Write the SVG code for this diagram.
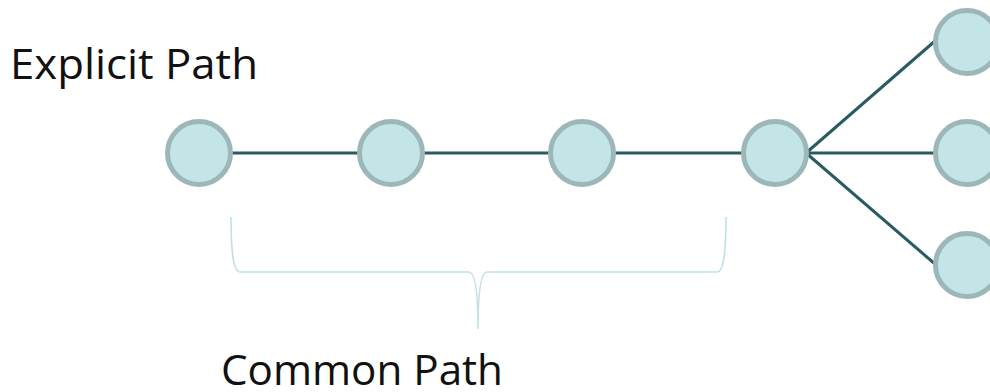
<svg xmlns="http://www.w3.org/2000/svg" width="990" height="392" viewBox="0 0 990 392">
<style>
.node{fill:#c4e5e8;stroke:#9db7b9;stroke-width:5}
.edge{stroke:#2a5b60;stroke-width:3;fill:none}
.brace{stroke:#c0e2e5;stroke-width:1.6;fill:none}
.lbl{font-family:"Open Sans","Noto Sans",sans-serif;font-size:42px;fill:#111}
</style>
<rect width="990" height="392" fill="#fff"/>
<g id="connectors">
<line class="edge" x1="230" y1="153" x2="360" y2="153"/>
<line class="edge" x1="422" y1="153" x2="551" y2="153"/>
<line class="edge" x1="613" y1="153" x2="743" y2="153"/>
<line class="edge" x1="806" y1="153" x2="935" y2="41"/>
<line class="edge" x1="806" y1="153" x2="935" y2="153"/>
<line class="edge" x1="806" y1="153" x2="935" y2="264"/>
</g>
<g id="node1"><circle class="node" cx="199" cy="153" r="31.5"/></g>
<g id="node2"><circle class="node" cx="391" cy="153" r="31.5"/></g>
<g id="node3"><circle class="node" cx="582" cy="153" r="31.5"/></g>
<g id="node4"><circle class="node" cx="775" cy="153" r="31.5"/></g>
<g id="node5"><circle class="node" cx="967" cy="42" r="31.5"/></g>
<g id="node6"><circle class="node" cx="967" cy="153" r="31.5"/></g>
<g id="node7"><circle class="node" cx="967" cy="265" r="31.5"/></g>
<g id="brace">
<path class="brace" d="M231,217 C231,250 233,272 240,272 L469,272 C475,272 478,290 478,329 C478,290 481,272 487,272 L717,272 C724,272 726,250 726,217"/>
</g>
<text class="lbl" x="10" y="79" textLength="248" lengthAdjust="spacingAndGlyphs">Explicit Path</text>
<text class="lbl" x="221" y="385" textLength="282" lengthAdjust="spacingAndGlyphs">Common Path</text>
</svg>
